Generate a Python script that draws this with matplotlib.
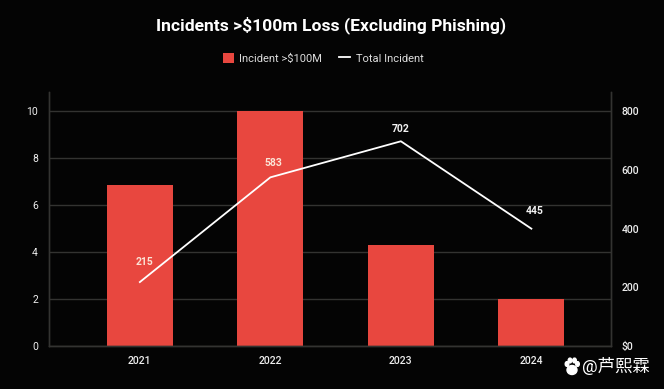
import matplotlib
matplotlib.use("Agg")
import matplotlib.pyplot as plt
from matplotlib.patches import Ellipse

plt.rcParams['font.family'] = ['Roboto', 'Noto Sans CJK SC', 'DejaVu Sans']

years = ['2021', '2022', '2023', '2024']
incidents_100m = [6.85, 10, 4.3, 2]
total_line = [218, 575, 698, 400]
total_labels = ['215', '583', '702', '445']
left_ticks = [0, 2, 4, 6, 8, 10]
right_ticks = [0, 200, 400, 600, 800]
right_labels = ['$0', '200', '400', '600', '800']

W, H = 664, 389
bg = '#040404'
grid = '#333331'

fig = plt.figure(figsize=(W/100, H/100), dpi=100, facecolor=bg)
ax = fig.add_axes([48.5/W, 1-346/H, (611-48.5)/W, (346-92)/H], facecolor=bg)
x = list(range(len(years)))

ax.set_axisbelow(True)
ax.bar(x, incidents_100m, width=0.506, color='#e8473f', label='Incident >$100M', zorder=2)
ax.set_xlim(-0.70, 3.61)
ax.set_ylim(0, 10.83)
ax.set_yticks(left_ticks)
ax.set_xticks(x)
ax.set_xticklabels(years, fontweight='medium')
ax.yaxis.grid(True, color=grid, lw=1)
ax.tick_params(colors='#eeeeee', labelsize=7.5, length=0, pad=7)
ax.tick_params(axis='y', pad=7.5)

ax2 = ax.twinx()
ax2.plot(x, total_line, color='white', lw=1.3, label='Total Incident', zorder=3)
ax2.set_ylim(0, 866)
ax2.set_yticks(right_ticks)
ax2.set_yticklabels(right_labels, fontweight='medium')
ax2.tick_params(colors='#eeeeee', labelsize=7.5, length=0, pad=7.5)

for s in [ax, ax2]:
    s.spines['top'].set_visible(False)
    for k in ['left', 'right', 'bottom']:
        s.spines[k].set_color(grid)
        s.spines[k].set_linewidth(1)

label_offs = [(3, 11), (2, 7), (0, 5), (2, 9)]
for i in range(4):
    col = '#fbe3d6' if i < 2 else '#f2f2f2'
    ax2.annotate(total_labels[i], (x[i], total_line[i]), xytext=label_offs[i],
                 textcoords='offset points', ha='center', va='bottom', color=col,
                 fontsize=7.5, fontweight='bold')

fig.text(331/W, 1-25/H, 'Incidents >$100m Loss (Excluding Phishing)', color='white',
         fontsize=12.6, fontweight='bold', ha='center', va='center')

# legend
h1, l1 = ax.get_legend_handles_labels()
h2, l2 = ax2.get_legend_handles_labels()
fig.legend(h1+h2, l1+l2, loc='center', bbox_to_anchor=(323/W, 1-58.5/H), ncol=2, frameon=False,
           labelcolor='#dddddd', fontsize=8, handlelength=1.0, handleheight=1.0,
           columnspacing=1.5, handletextpad=0.5)

# watermark
fig.text(616/W, 1-366/H, '@芦熙霖', color='white', fontsize=12.5, ha='center', va='center')
paw = [(572, 370, 5, 4.5), (567, 364, 1.8, 2.4), (570, 360.5, 1.8, 2.4), (574.5, 360.5, 1.8, 2.4), (577.5, 364, 1.8, 2.4)]
for px, py, pw, ph in paw:
    fig.add_artist(Ellipse((px/W, 1-py/H), 2*pw/W, 2*ph/H, color='white', transform=fig.transFigure))

fig.savefig('out.png', dpi=100, facecolor=bg)
